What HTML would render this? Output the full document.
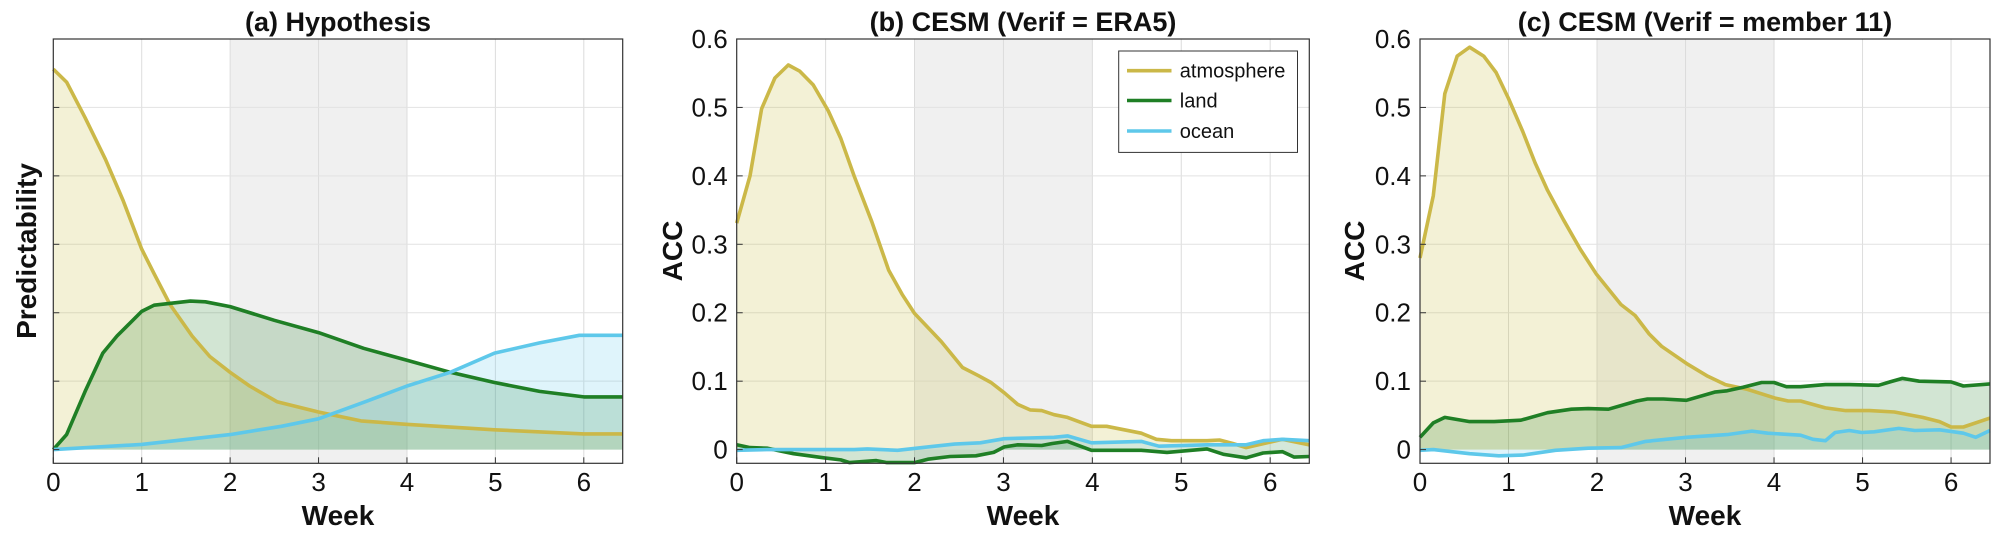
<!DOCTYPE html>
<html><head><meta charset="utf-8">
<style>
html,body{margin:0;padding:0;background:#fff;}
svg{display:block;}
text{font-family:"Liberation Sans",Arial,sans-serif;fill:#111;}
.tk{font-size:26px;}
.tt{font-size:27px;font-weight:bold;}
.lb{font-size:28px;font-weight:bold;}
.lg{font-size:20px;}
</style></head>
<body>
<svg id="s" width="2000" height="544" viewBox="0 0 2000 544" xmlns="http://www.w3.org/2000/svg"></svg>
<script>
const NS="http://www.w3.org/2000/svg";
const svg=document.getElementById('s');
function el(t,a,txt){const e=document.createElementNS(NS,t);for(const k in a)e.setAttribute(k,a[k]);if(txt!==undefined)e.textContent=txt;svg.appendChild(e);return e;}
const T=39,B=463.3,YMAX=0.6,YMIN=-0.02,XMAX=6.44;
const COL={atm:"#cbb848",land:"#1f7f25",ocean:"#5ec8ea"};
const FCOL={atm:"#c3b932",land:"#1f7f25",ocean:"#5ec8ea"};
const panels=[
 {L:53.3,R:622.7,title:"(a) Hypothesis",ylab:"Predictability",ylx:26,ticks:false,
  atm:[[0,.556],[.15,.537],[.36,.485],[.59,.424],[.79,.364],[1,.293],[1.14,.257],[1.32,.212],[1.57,.166],[1.77,.136],[2,.113],[2.22,.093],[2.53,.07],[3,.055],[3.48,.042],[3.99,.037],[4.99,.029],[6,.023],[6.44,.023]],
  land:[[0,0],[.15,.022],[.36,.085],[.56,.141],[.72,.166],[1,.202],[1.14,.211],[1.55,.217],[1.72,.216],[2,.209],[2.5,.189],[3,.171],[3.51,.148],[3.99,.131],[4.49,.113],[4.99,.098],[5.5,.085],[6,.077],[6.44,.077]],
  ocean:[[0,0],[1,.0076],[2,.022],[2.58,.034],[3,.045],[3.53,.07],[4,.093],[4.49,.113],[4.99,.141],[5.5,.156],[5.95,.167],[6.44,.167]]},
 {L:736.7,R:1309.3,title:"(b) CESM (Verif = ERA5)",ylab:"ACC",ylx:672,ticks:true,legend:true,
  atm:[[0,.331],[.15,.40],[.28,.498],[.43,.543],[.58,.562],[.71,.553],[.86,.533],[1.03,.495],[1.17,.455],[1.32,.40],[1.52,.333],[1.71,.262],[1.86,.227],[2,.199],[2.3,.158],[2.54,.12],[2.72,.108],[2.86,.098],[3.01,.083],[3.16,.066],[3.3,.058],[3.43,.057],[3.57,.051],[3.72,.047],[3.99,.034],[4.16,.034],[4.55,.024],[4.72,.015],[4.89,.013],[5.29,.013],[5.43,.014],[5.58,.009],[5.73,.003],[5.87,.007],[6.14,.015],[6.44,.007]],
  land:[[0,.007],[.15,.003],[.34,.002],[.64,-.006],[.98,-.012],[1.17,-.015],[1.27,-.019],[1.57,-.016],[1.69,-.019],[2,-.019],[2.15,-.014],[2.4,-.01],[2.69,-.009],[2.89,-.004],[3.01,.004],[3.16,.007],[3.43,.006],[3.55,.009],[3.72,.012],[3.99,-.001],[4.55,-.001],[4.84,-.004],[5.29,.001],[5.48,-.007],[5.73,-.012],[5.92,-.005],[6.14,-.003],[6.27,-.011],[6.44,-.01]],
  ocean:[[0,-.001],[.34,0],[1.32,0],[1.47,.001],[1.81,-.001],[2.15,.004],[2.45,.008],[2.74,.01],[3.01,.016],[3.28,.017],[3.57,.018],[3.72,.02],[3.99,.01],[4.55,.012],[4.75,.005],[5.29,.007],[5.73,.007],[5.92,.013],[6.14,.015],[6.44,.013]]},
 {L:1420,R:1990,title:"(c) CESM (Verif = member 11)",ylab:"ACC",ylx:1354,ticks:true,
  atm:[[0,.28],[.15,.371],[.28,.52],[.42,.575],[.56,.588],[.72,.575],[.86,.551],[1,.513],[1.16,.465],[1.3,.419],[1.44,.379],[1.62,.336],[1.81,.293],[1.99,.257],[2.27,.212],[2.43,.196],[2.59,.169],[2.73,.151],[3.01,.126],[3.24,.108],[3.45,.095],[3.7,.088],[4.02,.075],[4.16,.071],[4.3,.071],[4.58,.061],[4.81,.057],[5.08,.057],[5.36,.055],[5.68,.047],[5.87,.041],[6,.033],[6.14,.033],[6.44,.046]],
  land:[[0,.018],[.15,.039],[.28,.047],[.56,.041],[.84,.041],[1.14,.043],[1.44,.054],[1.71,.059],[1.9,.06],[2.13,.059],[2.45,.071],[2.57,.074],[2.75,.074],[3.01,.072],[3.33,.084],[3.47,.086],[3.65,.091],[3.86,.098],[4,.098],[4.14,.092],[4.3,.092],[4.58,.095],[4.85,.095],[5.18,.094],[5.31,.099],[5.45,.104],[5.64,.1],[6,.099],[6.14,.093],[6.44,.096]],
  ocean:[[0,-.001],[.15,0],[.56,-.006],[.89,-.009],[1.16,-.008],[1.53,-.001],[1.9,.002],[2.27,.003],[2.55,.012],[3.01,.018],[3.47,.022],[3.75,.027],[3.93,.024],[4.3,.021],[4.44,.015],[4.58,.013],[4.69,.025],[4.85,.028],[4.99,.025],[5.13,.026],[5.41,.031],[5.59,.028],[5.87,.029],[6.14,.024],[6.28,.018],[6.44,.028]]}
];
const Y=v=>T+(YMAX-v)/(YMAX-YMIN)*(B-T);
panels.forEach(p=>{
  const X=w=>p.L+w/XMAX*(p.R-p.L);
  el('rect',{x:p.L,y:T,width:p.R-p.L,height:B-T,fill:'#fff'});
  el('rect',{x:X(2),y:T,width:X(4)-X(2),height:B-T,fill:'#f0f0f0'});
  for(let w=1;w<=6;w++)el('line',{x1:X(w),x2:X(w),y1:T,y2:B,stroke:'#dcdcdc','stroke-width':1});
  for(let v=0.1;v<0.59;v+=0.1)el('line',{x1:p.L,x2:p.R,y1:Y(v),y2:Y(v),stroke:'#e2e2e2','stroke-width':1});
  ['atm','land','ocean'].forEach(k=>{
    const d=p[k];
    let pts=d.map(q=>X(q[0]).toFixed(1)+','+Y(q[1]).toFixed(1)).join(' L');
    el('path',{d:'M'+X(0)+','+Y(0)+' L'+pts+' L'+X(d[d.length-1][0])+','+Y(0)+' Z',fill:FCOL[k],'fill-opacity':0.2,stroke:'none'});
  });
  ['atm','land','ocean'].forEach(k=>{
    const d=p[k];
    el('path',{d:'M'+d.map(q=>X(q[0]).toFixed(1)+','+Y(q[1]).toFixed(1)).join(' L'),fill:'none',stroke:COL[k],'stroke-width':3.6,'stroke-linejoin':'round'});
  });
  el('rect',{x:p.L,y:T,width:p.R-p.L,height:B-T,fill:'none',stroke:'#333','stroke-width':1.2});
  for(let w=0;w<=6;w++){
    el('line',{x1:X(w),x2:X(w),y1:B,y2:B-6,stroke:'#333','stroke-width':1});
    el('text',{x:X(w),y:491,class:'tk','text-anchor':'middle'},String(w));
  }
  for(let i=0;i<=6;i++){
    const v=i/10;
    el('line',{x1:p.L,x2:p.L+6,y1:Y(v),y2:Y(v),stroke:'#333','stroke-width':1});
    if(p.ticks)el('text',{x:p.L-9,y:Y(v)+9,class:'tk','text-anchor':'end'},i==0?'0':v.toFixed(1));
  }
  el('text',{x:(p.L+p.R)/2,y:31,class:'tt','text-anchor':'middle'},p.title);
  el('text',{x:(p.L+p.R)/2,y:525,class:'lb','text-anchor':'middle'},'Week');
  el('text',{x:p.ylx,y:251,class:'lb','text-anchor':'middle',transform:'rotate(-90 '+p.ylx+' 251) translate(0 10)'},p.ylab);
  if(p.legend){
    el('rect',{x:1118.7,y:51,width:178.8,height:101.4,fill:'#fff',stroke:'#333','stroke-width':1});
    [['atmosphere','atm',70.7],['land','land',100.5],['ocean','ocean',131]].forEach(r=>{
      el('line',{x1:1127,x2:1171.5,y1:r[2],y2:r[2],stroke:COL[r[1]],'stroke-width':3.6});
      el('text',{x:1179.8,y:r[2]+7,class:'lg'},r[0]);
    });
  }
});
</script>
</body></html>
